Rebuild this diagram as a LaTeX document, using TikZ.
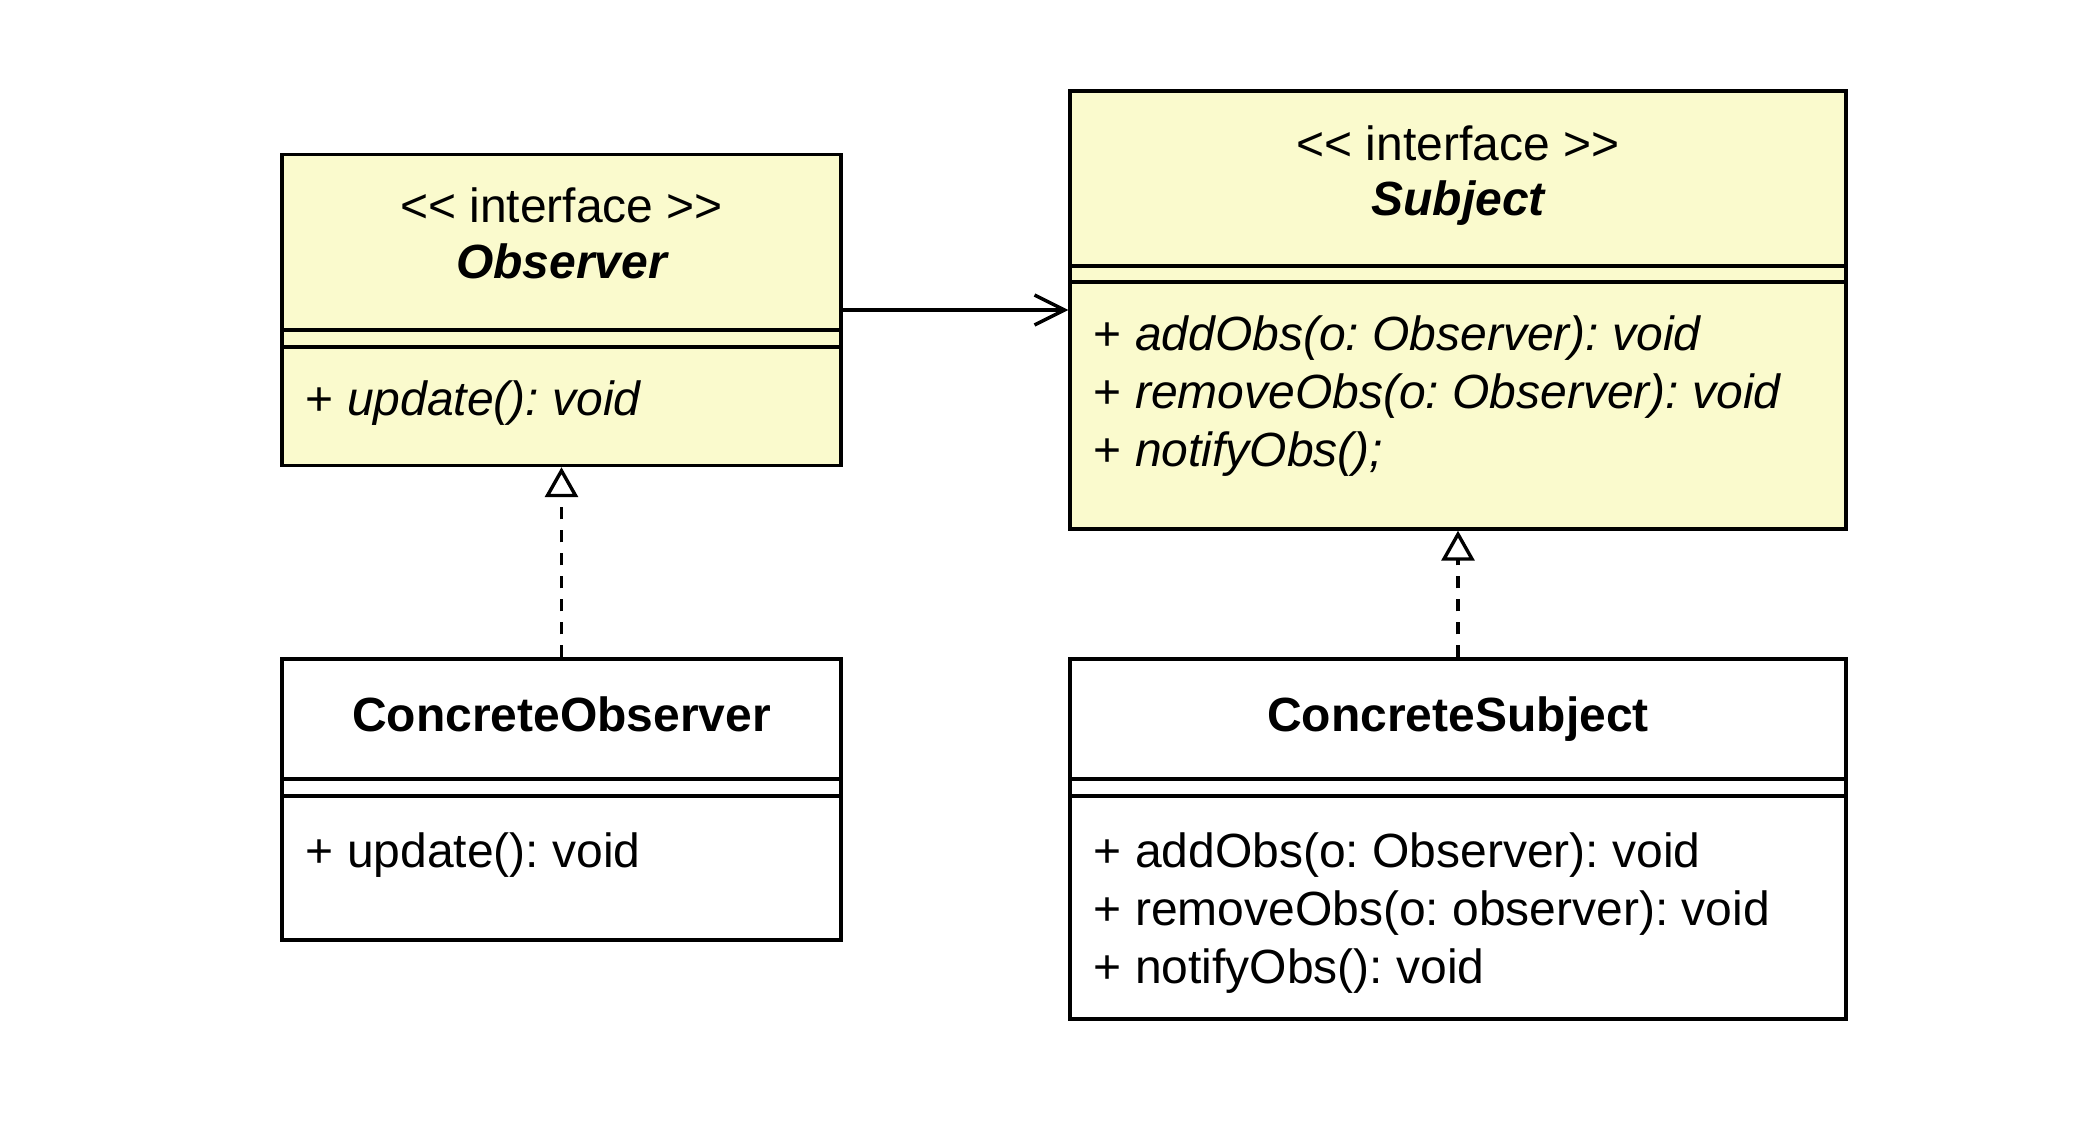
\documentclass[tikz,border=0pt]{standalone}
\usepackage{fontspec}
\newfontfamily\umlfont{Liberation Sans}
\usetikzlibrary{arrows.meta}
\frenchspacing
\begin{document}
\begin{tikzpicture}[x=0.5pt, y=-0.5pt, line width=1.7pt,
    cls/.style={draw=black, rectangle, inner sep=0pt},
    txt/.style={font=\umlfont\fontsize{24pt}{28.8pt}\selectfont, inner sep=0pt},
    assoc/.style={-{Straight Barb[length=15pt,width=15pt]}},
    realize/.style={dash pattern=on 6pt off 5.5pt, -{Triangle[open,length=15pt,width=16.5pt,fill=white]}}]
    \definecolor{uml-yellow}{RGB}{250,250,205}
    \fill[white] (0,0) rectangle (2084,1124);
    \useasboundingbox (0,0) rectangle (2084,1124);
    % interfaces
    \node[cls, fill=uml-yellow, minimum width=279.5pt, minimum height=155.5pt] (obs) at (561.5,310) {};
    \node[cls, fill=uml-yellow, minimum width=388pt, minimum height=219pt] (subj) at (1458,310) {};
    \draw (282,330) -- (841,330);
    \draw (282,347) -- (841,347);
    \draw (1070,266) -- (1846,266);
    \draw (1070,282) -- (1846,282);
    \node[txt, anchor=base] (obs-stereo) at (561.5,222) {<< interface >>};
    \node[txt, anchor=base, font=\umlfont\fontsize{24pt}{28.8pt}\selectfont\bfseries\itshape] (obs-name) at (561.5,278) {Observer};
    \node[txt, anchor=base west] (obs-op) at (304,415) {+ \textit{update(): void}};
    \node[txt, anchor=base] (subj-stereo) at (1458,160) {<< interface >>};
    \node[txt, anchor=base, font=\umlfont\fontsize{24pt}{28.8pt}\selectfont\bfseries\itshape] (subj-name) at (1458,215) {Subject};
    \node[txt, anchor=base west] (subj-op1) at (1092,350) {+ \textit{addObs(o: Observer): void}};
    \node[txt, anchor=base west] (subj-op2) at (1092,408) {+ \textit{removeObs(o: Observer): void}};
    \node[txt, anchor=base west] (subj-op3) at (1092,466) {+ \textit{notifyObs();}};
    % concrete classes
    \node[cls, fill=white, minimum width=279.5pt, minimum height=140.5pt] (cobs) at (561.5,799.5) {};
    \node[cls, fill=white, minimum width=388pt, minimum height=180pt] (csubj) at (1458,839) {};
    \draw (282,779) -- (841,779);
    \draw (282,796) -- (841,796);
    \draw (1070,779) -- (1846,779);
    \draw (1070,796) -- (1846,796);
    \node[txt, anchor=base, font=\umlfont\fontsize{24pt}{28.8pt}\selectfont\bfseries] (cobs-name) at (561.5,731) {ConcreteObserver};
    \node[txt, anchor=base west] (cobs-op) at (304,867) {+ update(): void};
    \node[txt, anchor=base, font=\umlfont\fontsize{24pt}{28.8pt}\selectfont\bfseries] (csubj-name) at (1458,731) {ConcreteSubject};
    \node[txt, anchor=base west] (csubj-op1) at (1092,867) {+ addObs(o: Observer): void};
    \node[txt, anchor=base west] (csubj-op2) at (1092,925) {+ removeObs(o: observer): void};
    \node[txt, anchor=base west] (csubj-op3) at (1092,983) {+ notifyObs(): void};
    % relations
    \draw[assoc] (obs.east) -- (subj.west);
    \draw[realize] (cobs.north) -- (obs.south);
    \draw[realize] (csubj.north) -- (subj.south);
\end{tikzpicture}
\end{document}
